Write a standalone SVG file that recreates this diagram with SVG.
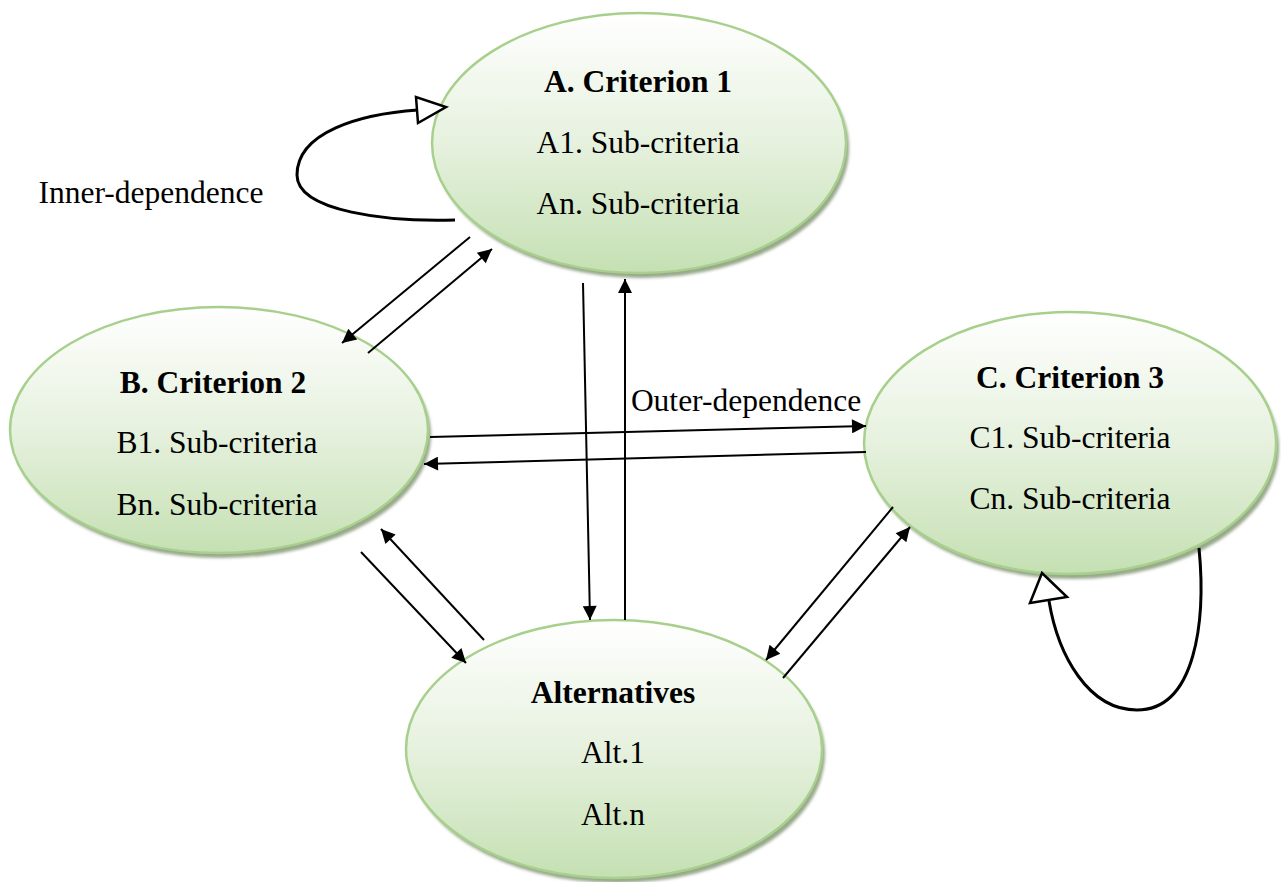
<svg xmlns="http://www.w3.org/2000/svg" width="1281" height="882" viewBox="0 0 1281 882">
  <defs>
    <linearGradient id="nodeFill" x1="0" y1="0" x2="0" y2="1">
      <stop offset="0" stop-color="#ffffff"/>
      <stop offset="0.5" stop-color="#e6f1de"/>
      <stop offset="1" stop-color="#c5e0b3"/>
    </linearGradient>
    <filter id="soft" x="-10%" y="-10%" width="120%" height="120%">
      <feGaussianBlur stdDeviation="1.5"/>
    </filter>
    <marker id="solid" viewBox="0 0 10 10" refX="10" refY="5" markerWidth="17" markerHeight="14" markerUnits="userSpaceOnUse" orient="auto">
      <path d="M0,0 L10,5 L0,10 Z" fill="#000"/>
    </marker>
    <style>
      .shadow { fill: #98a98b; filter: url(#soft); }
      .node { fill: url(#nodeFill); stroke: #a8d08d; stroke-width: 2.5; }
      .t { font-family: "Liberation Serif", "Times New Roman", serif; font-size: 31.5px; fill: #000; text-anchor: middle; }
      .b { font-weight: bold; }
      .edge { stroke: #000; stroke-width: 2; fill: none; marker-end: url(#solid); }
      .loop { stroke: #000; stroke-width: 3; fill: none; }
      .open { fill: #fff; stroke: #000; stroke-width: 2.5; stroke-linejoin: miter; }
    </style>
  </defs>
  <rect width="1281" height="882" fill="#fff"/>

  <!-- A. Criterion 1 -->
  <g id="nodeA">
    <ellipse class="shadow" cx="642" cy="148" rx="207" ry="130"/>
    <ellipse class="node" cx="639" cy="143" rx="207" ry="130"/>
    <text class="t b" x="638" y="92">A. Criterion 1</text>
    <text class="t" x="638" y="153">A1. Sub-criteria</text>
    <text class="t" x="638" y="214">An. Sub-criteria</text>
  </g>

  <!-- B. Criterion 2 -->
  <g id="nodeB">
    <ellipse class="shadow" cx="222" cy="435" rx="209" ry="123"/>
    <ellipse class="node" cx="219" cy="430" rx="209" ry="123"/>
    <text class="t b" x="213" y="393">B. Criterion 2</text>
    <text class="t" x="217" y="453">B1. Sub-criteria</text>
    <text class="t" x="217" y="515">Bn. Sub-criteria</text>
  </g>

  <!-- C. Criterion 3 -->
  <g id="nodeC">
    <ellipse class="shadow" cx="1073" cy="448" rx="206" ry="131"/>
    <ellipse class="node" cx="1070" cy="443" rx="206" ry="131"/>
    <text class="t b" x="1070" y="388">C. Criterion 3</text>
    <text class="t" x="1070" y="448">C1. Sub-criteria</text>
    <text class="t" x="1070" y="509">Cn. Sub-criteria</text>
  </g>

  <!-- Alternatives -->
  <g id="nodeAlt">
    <ellipse class="shadow" cx="617" cy="754" rx="208" ry="129"/>
    <ellipse class="node" cx="614" cy="749" rx="208" ry="129"/>
    <text class="t b" x="613" y="703">Alternatives</text>
    <text class="t" x="613" y="763">Alt.1</text>
    <text class="t" x="613" y="825">Alt.n</text>
  </g>

  <!-- connectors, drawn over the nodes -->
  <g id="connectors">
    <!-- inner dependence loops -->
    <path class="loop" d="M455,220 C390,222 297,212 297,175 C297,132 360,114 418,110"/>
    <polygon class="open" points="416,97 418,123 446,107"/>
    <path class="loop" d="M1199,548 C1206,620 1196,710 1137,710 C1088,710 1058,655 1049,601"/>
    <polygon class="open" points="1030,603 1067,597 1042,573"/>

    <!-- A <-> B -->
    <line class="edge" x1="470" y1="237" x2="342" y2="343"/>
    <line class="edge" x1="368" y1="353" x2="492" y2="249"/>
    <!-- A <-> Alternatives -->
    <line class="edge" x1="583" y1="283" x2="590" y2="620"/>
    <line class="edge" x1="625" y1="620" x2="625" y2="279"/>
    <!-- B <-> C -->
    <line class="edge" x1="430" y1="437" x2="866" y2="426"/>
    <line class="edge" x1="866" y1="452" x2="424" y2="464"/>
    <!-- B <-> Alternatives -->
    <line class="edge" x1="361" y1="552" x2="466" y2="663"/>
    <line class="edge" x1="484" y1="640" x2="381" y2="529"/>
    <!-- C <-> Alternatives -->
    <line class="edge" x1="893" y1="507" x2="766" y2="660"/>
    <line class="edge" x1="783" y1="678" x2="910" y2="527"/>

    <text class="t" x="151" y="203">Inner-dependence</text>
    <text class="t" x="746" y="411">Outer-dependence</text>
  </g>
</svg>
